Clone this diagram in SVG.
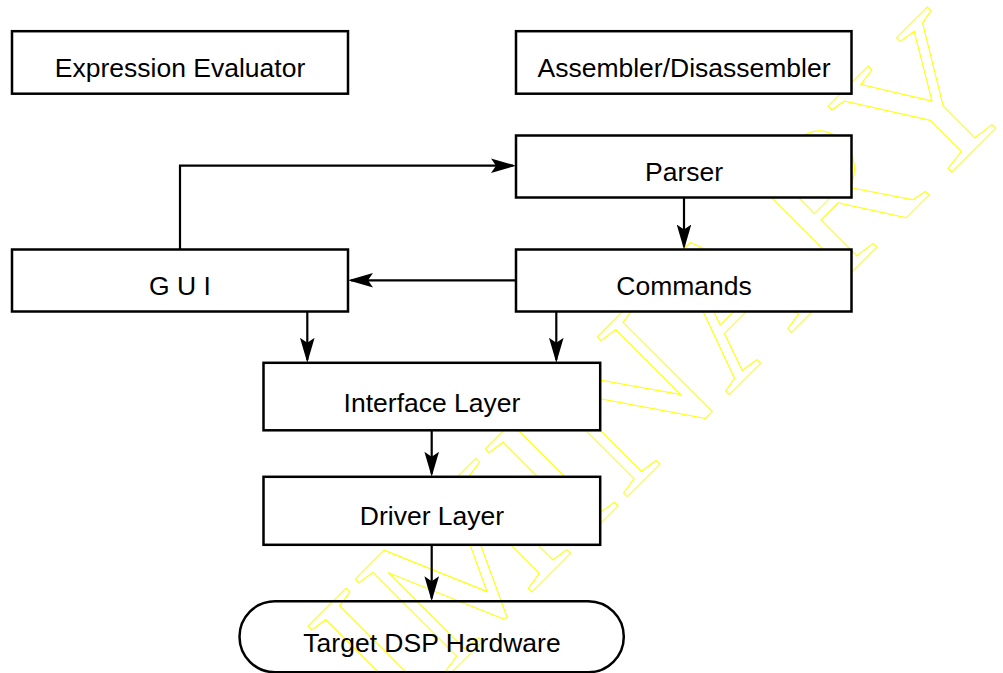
<svg xmlns="http://www.w3.org/2000/svg" width="1003" height="673" viewBox="0 0 1003 673">
  <defs>
    <marker id="arrow" markerUnits="userSpaceOnUse" viewBox="-25 -8 26 16" refX="-3" refY="0" markerWidth="26" markerHeight="16" orient="auto">
      <path d="M0,0 L-25,-7.3 L-20,0 L-25,7.3 Z" fill="#000"/>
    </marker>
  </defs>
  <style>
    .box { fill: #fff; stroke: #000; stroke-width: 2.5; }
    .term { fill: none; stroke: #000; stroke-width: 2.5; }
    .lbl { font-family: "Liberation Sans", Arial, sans-serif; font-size: 26.5px; fill: #000; text-anchor: middle; }
    .conn { fill: none; stroke: #000; stroke-width: 2.2; marker-end: url(#arrow); }
    .wm { font-family: "Liberation Serif", "Times New Roman", serif; font-size: 205px; fill: none; stroke: #ffff00; stroke-width: 1; text-anchor: end; }
  </style>
  <rect width="1003" height="673" fill="#fff"/>

  <text class="wm" transform="translate(1026,98) rotate(-45)">PRELIMINARY</text>

  <g id="connectors">
    <path class="conn" d="M180,249.5 V165.7 H513"/>
    <path class="conn" d="M684,197.3 V246.5"/>
    <path class="conn" d="M516,280.3 H351"/>
    <path class="conn" d="M307.3,311.3 V359.8"/>
    <path class="conn" d="M556.3,311.3 V359.8"/>
    <path class="conn" d="M431.7,430.3 V473.8"/>
    <path class="conn" d="M431.7,544.7 V598.2"/>
  </g>

  <g id="expression-evaluator">
    <rect class="box" x="12" y="31.2" width="336" height="62.5"/>
    <text class="lbl" x="180" y="77.3">Expression Evaluator</text>
  </g>
  <g id="assembler-disassembler">
    <rect class="box" x="516" y="31.2" width="335.5" height="62.5"/>
    <text class="lbl" x="684" y="77.3">Assembler/Disassembler</text>
  </g>
  <g id="parser">
    <rect class="box" x="516" y="135.5" width="335.5" height="62"/>
    <text class="lbl" x="684" y="181">Parser</text>
  </g>
  <g id="gui">
    <rect class="box" x="12" y="249.5" width="336" height="62"/>
    <text class="lbl" x="180" y="295">G U I</text>
  </g>
  <g id="commands">
    <rect class="box" x="516" y="249.5" width="335.5" height="62"/>
    <text class="lbl" x="684" y="294.5">Commands</text>
  </g>
  <g id="interface-layer">
    <rect class="box" x="263.5" y="362.8" width="336.7" height="67.5"/>
    <text class="lbl" x="432" y="411.7">Interface Layer</text>
  </g>
  <g id="driver-layer">
    <rect class="box" x="263.5" y="476.8" width="336.7" height="68"/>
    <text class="lbl" x="432" y="525">Driver Layer</text>
  </g>
  <g id="target-dsp-hardware">
    <rect class="term" x="239.5" y="601.2" width="384.3" height="71" rx="35.5" ry="35.5"/>
    <text class="lbl" x="432" y="651.7">Target DSP Hardware</text>
  </g>
</svg>
